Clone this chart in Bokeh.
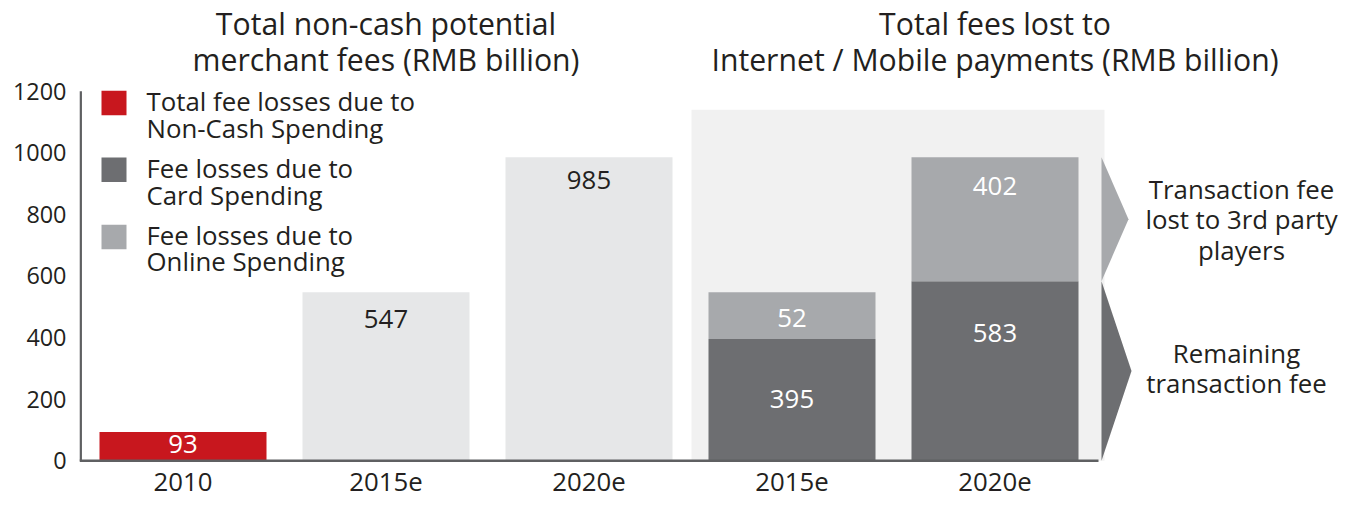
from bokeh.plotting import figure
from bokeh.models import Range1d, FixedTicker
from bokeh.embed import file_html
from bokeh.resources import INLINE
from bokeh.core.properties import value

# ---------------- data ----------------
left_categories = ["2010", "2015e", "2020e"]
left_values = [93, 547, 985]
left_labels = ["93", "547", "985"]

right_categories = ["2015e", "2020e"]
card_values = [395, 583]
online_values = [152, 402]
card_labels = ["395", "583"]
online_labels = ["52", "402"]

y_ticks = [0, 200, 400, 600, 800, 1000, 1200]

legend_texts = [
    ["Total fee losses due to", "Non-Cash Spending"],
    ["Fee losses due to", "Card Spending"],
    ["Fee losses due to", "Online Spending"],
]
title_left = ["Total non-cash potential", "merchant fees (RMB billion)"]
title_right = ["Total fees lost to", "Internet / Mobile payments (RMB billion)"]
note_top = ["Transaction fee", "lost to 3rd party", "players"]
note_bottom = ["Remaining", "transaction fee"]

# ---------------- style ----------------
RED = "#c8171e"
DARK = "#6d6e71"
LIGHT = "#a7a9ac"
PALE = "#e6e7e8"
BG = "#f1f1f1"
TXT = "#231f20"
AXIS = "#5f6062"
FONT = "Open Sans"
K = 0.975                      # vertical compression so everything fits
FS = "%.1fpx" % (26.5 * K)
FS_TITLE = "%.1fpx" % (31 * K)
FS_TICK = "%.1fpx" % (24 * K)

# layout helpers (reference pixel -> data)
X0, XS = 182.5, 203.0
Y0, YS = 484.0, 0.316
def dx(px):
    return (px - X0) / XS
def dy(py):
    return (Y0 - py) / YS
def off(v):
    return [o * K for o in v]

W = 167.0 / XS
H = 501
TOP_REF = 15 - 3 / K
BOT_REF = 15 + (H - 3) / K

p = figure(width=1347, height=H, output_backend="svg", toolbar_location=None,
           title=None, x_axis_type=None,
           x_range=Range1d(dx(79), dx(1347)),
           y_range=Range1d(dy(BOT_REF), dy(TOP_REF)),
           min_border_left=79, min_border_right=0, min_border_top=0, min_border_bottom=0)
p.outline_line_color = None
p.grid.visible = False
p.background_fill_color = "white"
p.border_fill_color = "white"

# y axis
p.yaxis.ticker = FixedTicker(ticks=y_ticks)
p.yaxis.axis_line_color = None
p.yaxis.major_tick_line_color = None
p.yaxis.minor_tick_line_color = None
p.yaxis.major_tick_out = 0
p.yaxis.major_tick_in = 0
p.yaxis.major_label_standoff = 13
p.yaxis.major_label_text_font = FONT
p.yaxis.major_label_text_font_size = FS_TICK
p.yaxis.major_label_text_color = TXT

all_cats = left_categories + right_categories
xpos = list(range(len(all_cats)))

# shaded panel behind the right group
p.quad(left=[dx(691)], right=[dx(1104)], bottom=[0], top=[dy(124)],
       fill_color=BG, line_color=None)

# left bars
lx = list(range(len(left_categories)))
p.vbar(x=lx, top=left_values, width=W, fill_color=[RED, PALE, PALE], line_color=None)
p.text(x=lx, y=left_values, text=left_labels, y_offset=off([12.5, 27.5, 23.5]),
       text_color=["white", TXT, TXT], text_align="center", text_baseline="middle",
       text_font=value(FONT), text_font_size=FS)

# stacked right bars
rx = [len(left_categories) + i for i in range(len(right_categories))]
totals = [c + o for c, o in zip(card_values, online_values)]
p.vbar(x=rx, bottom=[0] * len(rx), top=card_values, width=W, fill_color=DARK, line_color=None)
p.vbar(x=rx, bottom=card_values, top=totals, width=W, fill_color=LIGHT, line_color=None)
p.text(x=rx, y=card_values, text=card_labels, y_offset=off([61.5, 53.5]),
       text_color="white", text_align="center", text_baseline="middle",
       text_font=value(FONT), text_font_size=FS)
p.text(x=rx, y=totals, text=online_labels, y_offset=off([26.5, 29.5]),
       text_color="white", text_align="center", text_baseline="middle",
       text_font=value(FONT), text_font_size=FS)

# chevrons for last stacked bar
c_last, t_last = card_values[-1], totals[-1]
p.patches(xs=[[dx(1101), dx(1128), dx(1101)], [dx(1101), dx(1131), dx(1101)]],
          ys=[[c_last, (c_last + t_last) / 2, t_last], [0, c_last / 2, c_last]],
          fill_color=[LIGHT, DARK], line_color=None)

# axis lines drawn manually
p.segment(x0=[dx(79)], y0=[0], x1=[dx(1098)], y1=[0], line_color=AXIS, line_width=2.5)
p.segment(x0=[dx(80.2)], y0=[0], x1=[dx(80.2)], y1=[dy(105)], line_color=AXIS, line_width=2.5)

# category labels under the axis
p.text(x=xpos, y=[0] * len(xpos), text=all_cats, y_offset=21.5 * K,
       text_align="center", text_baseline="middle", text_color=TXT,
       text_font=value(FONT), text_font_size=FS)

# legend
sq_y = [dy(117), dy(185.5), dy(254.5)]
p.rect(x=[dx(113.5)] * 3, y=sq_y, width=25, height=25 * K, width_units="screen",
       height_units="screen", fill_color=[RED, DARK, LIGHT], line_color=None)
line_y = [[115.5, 142.5], [183.5, 211.5], [252.5, 279.5]]
for texts, ys in zip(legend_texts, line_y):
    p.text(x=[dx(146)] * 2, y=[dy(v) for v in ys], text=texts, text_align="left",
           text_baseline="middle", text_color=TXT, text_font=value(FONT),
           text_font_size=FS)

# titles
for xi, lines in [(1, title_left), (4, title_right)]:
    p.text(x=[xi] * 2, y=[dy(36), dy(72)], text=lines, text_align="center",
           text_baseline="middle", text_color=TXT, text_font=value(FONT),
           text_font_size=FS_TITLE)

# side notes
p.text(x=[dx(1241)] * 3, y=[dy(205.5), dy(236.5), dy(267.5)], text=note_top,
       text_align="center", text_baseline="middle", text_color=TXT,
       text_font=value(FONT), text_font_size=FS)
p.text(x=[dx(1236)] * 2, y=[dy(373.5), dy(404.5)], text=note_bottom,
       text_align="center", text_baseline="middle", text_color=TXT,
       text_font=value(FONT), text_font_size=FS)

open("out.html", "w").write(file_html(p, INLINE))
